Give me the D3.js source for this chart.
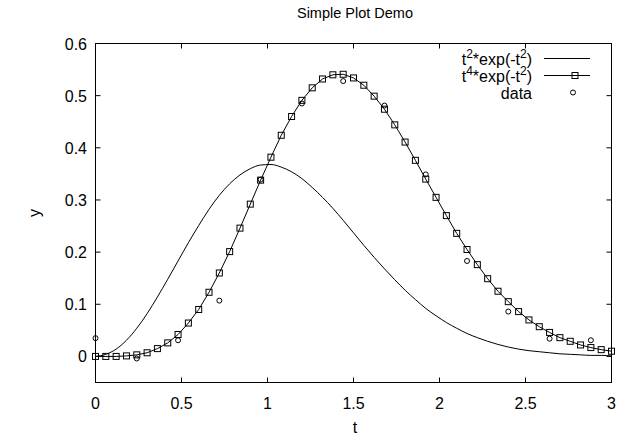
<!DOCTYPE html>
<html>
<head>
<meta charset="utf-8">
<script src="https://cdn.jsdelivr.net/npm/d3@7"></script>
<style>
  body { margin: 0; background: #fff; }
  text { font-family: "Liberation Sans", Arial, sans-serif; fill: #000; }
</style>
</head>
<body>
<div id="chart"></div>
<script>
// sample points t = 0, 0.06, ... 3.0
const tValues = [0, 0.06, 0.12, 0.18, 0.24, 0.30, 0.36, 0.42, 0.48, 0.54,
  0.60, 0.66, 0.72, 0.78, 0.84, 0.90, 0.96, 1.02, 1.08, 1.14,
  1.20, 1.26, 1.32, 1.38, 1.44, 1.50, 1.56, 1.62, 1.68, 1.74,
  1.80, 1.86, 1.92, 1.98, 2.04, 2.10, 2.16, 2.22, 2.28, 2.34,
  2.40, 2.46, 2.52, 2.58, 2.64, 2.70, 2.76, 2.82, 2.88, 2.94, 3.00];

// t^2*exp(-t^2)
const curve2 = [0, 0.004, 0.014, 0.031, 0.054, 0.082, 0.114, 0.148, 0.183, 0.218,
  0.251, 0.282, 0.309, 0.331, 0.348, 0.360, 0.367, 0.368, 0.363, 0.354,
  0.341, 0.324, 0.305, 0.284, 0.261, 0.237, 0.213, 0.190, 0.168, 0.147,
  0.127, 0.109, 0.092, 0.078, 0.065, 0.054, 0.044, 0.036, 0.029, 0.023,
  0.018, 0.014, 0.011, 0.009, 0.007, 0.005, 0.004, 0.003, 0.002, 0.002, 0.001];

// t^4*exp(-t^2)
const curve4 = [0, 0.000, 0.000, 0.001, 0.003, 0.007, 0.015, 0.026, 0.042, 0.064,
  0.090, 0.123, 0.160, 0.201, 0.246, 0.292, 0.338, 0.382, 0.424, 0.460,
  0.491, 0.515, 0.532, 0.540, 0.541, 0.534, 0.520, 0.499, 0.474, 0.444,
  0.411, 0.376, 0.340, 0.305, 0.270, 0.236, 0.205, 0.176, 0.149, 0.125,
  0.105, 0.086, 0.070, 0.057, 0.046, 0.036, 0.029, 0.022, 0.017, 0.013, 0.010];

// noisy data
const dataT = [0, 0.24, 0.48, 0.72, 0.96, 1.20, 1.44, 1.68, 1.92, 2.16, 2.40, 2.64, 2.88];
const dataY = [0.035, -0.004, 0.031, 0.107, 0.339, 0.485, 0.528, 0.481, 0.349, 0.183, 0.086, 0.034, 0.031];

const xTicks = [0, 0.5, 1, 1.5, 2, 2.5, 3];
const yTicks = [0, 0.1, 0.2, 0.3, 0.4, 0.5, 0.6];

const width = 620, height = 435;

const svg = d3.select("#chart")
  .append("svg")
  .attr("width", width)
  .attr("height", height);

const x = d3.scaleLinear().domain([0, 3]).range([95.5, 611.5]);
const y = d3.scaleLinear().domain([-0.05, 0.6]).range([382.5, 43.5]);

// frame
svg.append("rect")
  .attr("x", x(0)).attr("y", y(0.6))
  .attr("width", x(3) - x(0)).attr("height", y(-0.05) - y(0.6))
  .attr("fill", "none").attr("stroke", "#000");

// ticks, mirrored and pointing inward
const tickLen = 5;
const ticks = svg.append("g").attr("stroke", "#000");
xTicks.forEach(v => {
  ticks.append("line").attr("x1", x(v)).attr("x2", x(v))
    .attr("y1", y(-0.05)).attr("y2", y(-0.05) - tickLen);
  ticks.append("line").attr("x1", x(v)).attr("x2", x(v))
    .attr("y1", y(0.6)).attr("y2", y(0.6) + tickLen);
});
yTicks.forEach(v => {
  ticks.append("line").attr("x1", x(0)).attr("x2", x(0) + tickLen)
    .attr("y1", y(v)).attr("y2", y(v));
  ticks.append("line").attr("x1", x(3)).attr("x2", x(3) - tickLen)
    .attr("y1", y(v)).attr("y2", y(v));
});

svg.append("g")
  .selectAll("text")
  .data(xTicks)
  .join("text")
  .attr("x", d => x(d))
  .attr("y", 409)
  .attr("text-anchor", "middle")
  .attr("font-size", 16)
  .text(d => d);

svg.append("g")
  .selectAll("text")
  .data(yTicks)
  .join("text")
  .attr("x", 87)
  .attr("y", d => y(d) + 6)
  .attr("text-anchor", "end")
  .attr("font-size", 16)
  .text(d => d);

// titles
svg.append("text").attr("x", 355).attr("y", 18)
  .attr("text-anchor", "middle").attr("font-size", 14.5)
  .text("Simple Plot Demo");
svg.append("text").attr("x", 355).attr("y", 433)
  .attr("text-anchor", "middle").attr("font-size", 16)
  .text("t");
svg.append("text")
  .attr("transform", "translate(40,213) rotate(-90)")
  .attr("text-anchor", "middle").attr("font-size", 16)
  .text("y");

const plot = svg.append("g");

const line2 = d3.line()
  .x((d, i) => x(tValues[i]))
  .y(d => y(d))
  .curve(d3.curveMonotoneX);
const line4 = d3.line()
  .x((d, i) => x(tValues[i]))
  .y(d => y(d));

plot.append("path")
  .attr("d", line2(curve2))
  .attr("fill", "none").attr("stroke", "#000").attr("stroke-width", 1);

plot.append("path")
  .attr("d", line4(curve4))
  .attr("fill", "none").attr("stroke", "#000").attr("stroke-width", 1);

const sq = 6;
plot.append("g")
  .selectAll("rect")
  .data(curve4)
  .join("rect")
  .attr("x", (d, i) => x(tValues[i]) - sq / 2)
  .attr("y", d => y(d) - sq / 2)
  .attr("width", sq).attr("height", sq)
  .attr("fill", "none").attr("stroke", "#000").attr("stroke-width", 1);

plot.append("g")
  .selectAll("circle")
  .data(dataY)
  .join("circle")
  .attr("cx", (d, i) => x(dataT[i]))
  .attr("cy", d => y(d))
  .attr("r", 2.5)
  .attr("fill", "none").attr("stroke", "#000").attr("stroke-width", 1);

// legend
const legend = svg.append("g");
const rows = [
  { base: "t", sup: "2", rest: "*exp(-t", sup2: "2", end: ")", y: 58.5, kind: "line" },
  { base: "t", sup: "4", rest: "*exp(-t", sup2: "2", end: ")", y: 75.5, kind: "square" },
  { label: "data", y: 92.5, kind: "circle" }
];
rows.forEach(r => {
  const t = legend.append("text")
    .attr("x", 532).attr("y", r.y + 6)
    .attr("text-anchor", "end").attr("font-size", 16);
  if (r.label) {
    t.text(r.label);
  } else {
    t.append("tspan").text(r.base);
    t.append("tspan").attr("dy", -7).attr("font-size", 12).text(r.sup);
    t.append("tspan").attr("dy", 7).text(r.rest);
    t.append("tspan").attr("dy", -7).attr("font-size", 12).text(r.sup2);
    t.append("tspan").attr("dy", 7).text(r.end);
  }
  if (r.kind !== "circle") {
    legend.append("line").attr("x1", 544).attr("x2", 590)
      .attr("y1", r.y).attr("y2", r.y).attr("stroke", "#000");
  }
  if (r.kind === "square") {
    legend.append("rect").attr("x", 575 - sq / 2).attr("y", r.y - sq / 2)
      .attr("width", sq).attr("height", sq)
      .attr("fill", "none").attr("stroke", "#000");
  }
  if (r.kind === "circle") {
    legend.append("circle").attr("cx", 573).attr("cy", r.y).attr("r", 2.5)
      .attr("fill", "none").attr("stroke", "#000");
  }
});
</script>
</body>
</html>
